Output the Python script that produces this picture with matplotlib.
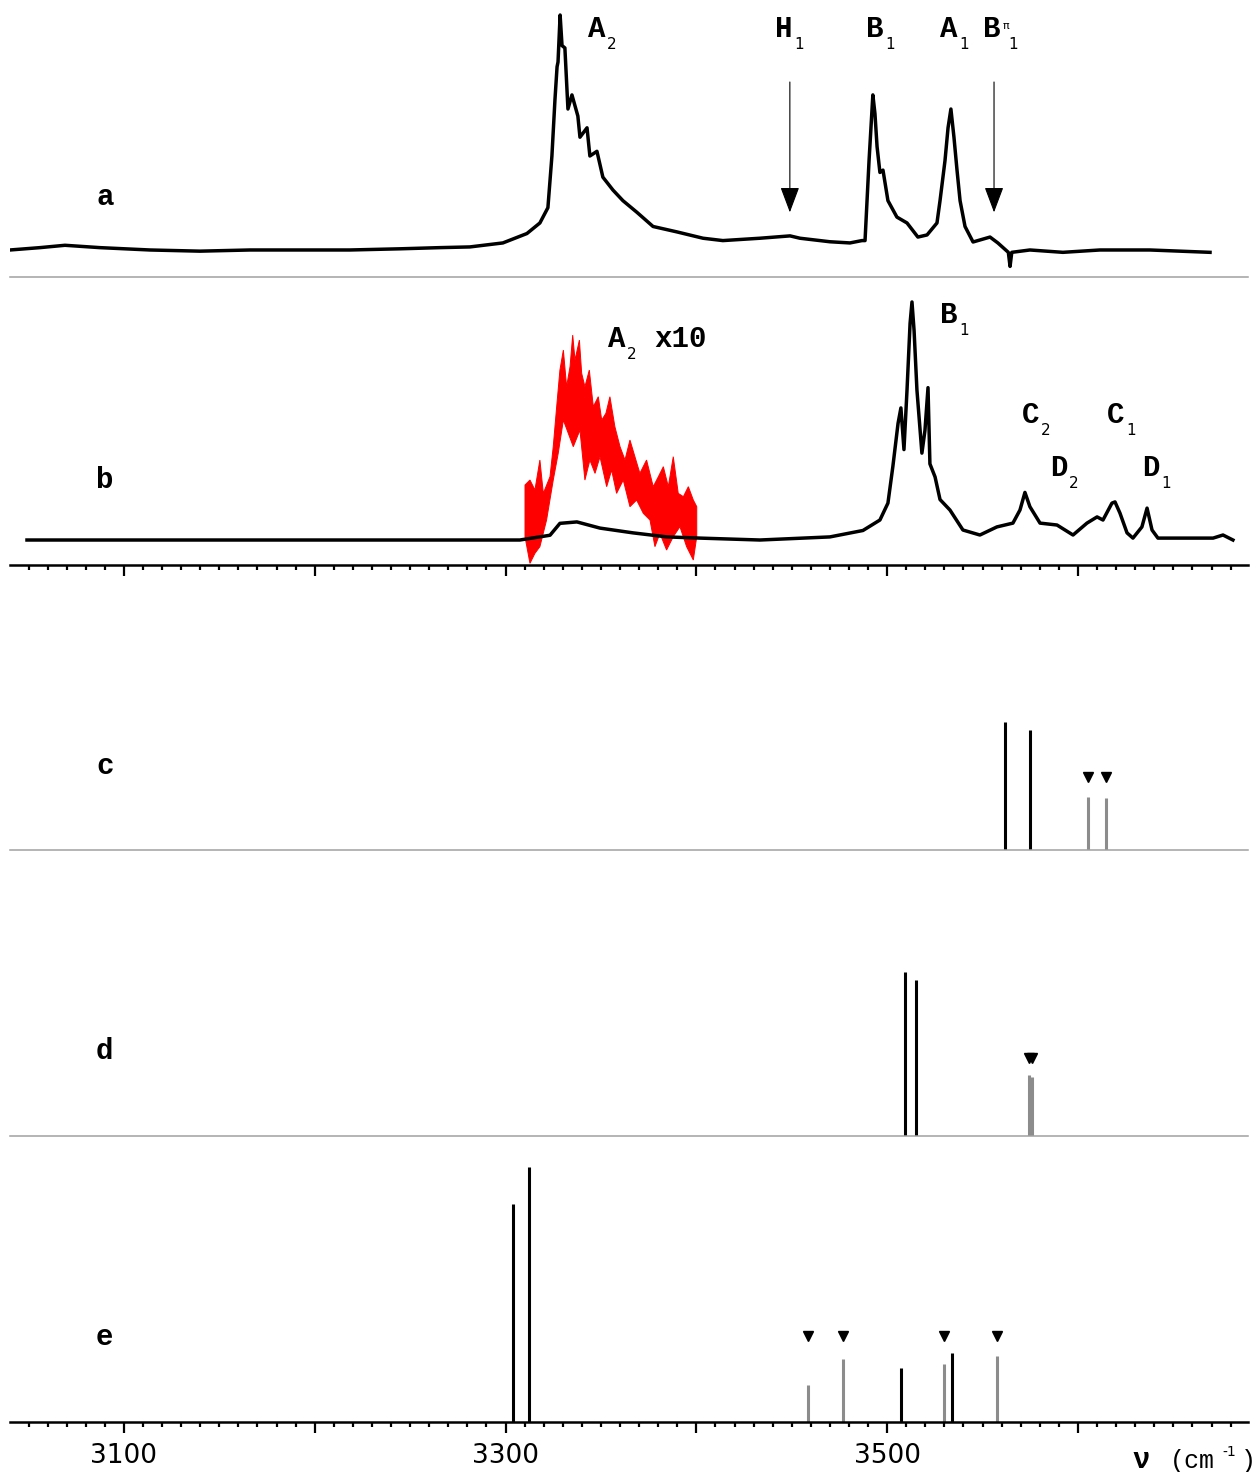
import numpy as np
import matplotlib
matplotlib.use("Agg")
import matplotlib.pyplot as plt
from matplotlib.ticker import MultipleLocator

# --- trace a: wavenumber (cm-1) and relative intensity ---
nu_a = [3040.3, 3056.0, 3069.1, 3087.4, 3113.6, 3139.8, 3166.0, 3192.2, 3218.4,
        3244.7, 3265.6, 3281.3, 3298.6, 3311.2, 3318.0, 3322.2, 3324.3, 3325.9,
        3327.0, 3327.5, 3328.6, 3329.6, 3331.1, 3332.7, 3334.8, 3337.9, 3339.0,
        3342.7, 3344.2, 3347.9, 3351.0, 3356.3, 3361.5, 3368.9, 3377.3, 3389.8,
        3403.5, 3413.9, 3433.3, 3449.1, 3454.3, 3470.0, 3480.5, 3486.8, 3488.4,
        3490.5, 3492.5, 3493.6, 3494.7, 3496.2, 3497.8, 3500.4, 3505.1, 3510.4,
        3516.1, 3520.9, 3526.1, 3527.7, 3530.3, 3531.9, 3533.4, 3535.0, 3536.6,
        3538.2, 3540.8, 3545.0, 3553.9, 3558.0, 3563.5, 3564.4, 3565.3, 3574.8,
        3592.1, 3611.5, 3637.7, 3669.2]
int_a = [0.00, 0.01, 0.02, 0.01, 0.00, -0.005, 0.00, 0.00, 0.00,
         0.005, 0.01, 0.013, 0.03, 0.07, 0.115, 0.18, 0.40, 0.64,
         0.78, 0.80, 1.00, 0.87, 0.86, 0.60, 0.66, 0.57, 0.48,
         0.52, 0.40, 0.42, 0.31, 0.255, 0.21, 0.16, 0.10, 0.077,
         0.05, 0.04, 0.05, 0.06, 0.05, 0.035, 0.03, 0.04, 0.04,
         0.38, 0.66, 0.58, 0.44, 0.33, 0.34, 0.21, 0.14, 0.115,
         0.055, 0.064, 0.115, 0.21, 0.38, 0.52, 0.60, 0.48, 0.34,
         0.21, 0.10, 0.034, 0.055, 0.03, -0.01, -0.07, -0.01, 0.00,
         -0.01, 0.00, 0.00, -0.01]

# --- trace b (black) ---
nu_b = [3049.2, 3087.4, 3139.8, 3192.2, 3244.7, 3297.1, 3307.5, 3323.3, 3328.5,
        3337.4, 3349.5, 3366.8, 3384.6, 3401.9, 3433.3, 3470.0, 3487.3, 3496.2,
        3500.4, 3503.0, 3505.7, 3507.2, 3508.8, 3510.4, 3512.0, 3513.0, 3514.1,
        3515.6, 3518.2, 3519.8, 3521.4, 3522.4, 3525.1, 3527.7, 3532.9, 3539.7,
        3548.6, 3557.5, 3565.9, 3569.6, 3572.2, 3574.8, 3580.1, 3589.0, 3597.4,
        3604.7, 3610.0, 3613.1, 3617.8, 3619.4, 3622.0, 3625.7, 3628.8, 3633.5,
        3636.2, 3638.8, 3641.9, 3653.5, 3670.8, 3676.0, 3681.2]
int_b = [0.00, 0.00, 0.00, 0.00, 0.00, 0.00, 0.00, 0.02, 0.07,
         0.076, 0.05, 0.03, 0.013, 0.008, 0.00, 0.013, 0.04, 0.084,
         0.155, 0.31, 0.49, 0.555, 0.38, 0.63, 0.91, 1.00, 0.88,
         0.63, 0.365, 0.46, 0.64, 0.32, 0.265, 0.17, 0.126, 0.042,
         0.021, 0.055, 0.071, 0.126, 0.20, 0.14, 0.071, 0.063, 0.021,
         0.071, 0.097, 0.084, 0.155, 0.16, 0.113, 0.03, 0.008, 0.055,
         0.134, 0.042, 0.008, 0.008, 0.008, 0.021, 0.00]

# --- trace b, A2 region x10 (red): upper and lower edge of the noisy trace ---
nu_b10_up = [3310.2, 3312.8, 3315.4, 3318.0, 3319.8, 3323.3, 3325.0, 3326.8, 3328.5,
             3330.3, 3332.0, 3333.8, 3335.2, 3336.4, 3338.7, 3339.9, 3341.6, 3343.9,
             3346.0, 3348.6, 3350.4, 3352.6, 3354.7, 3357.3, 3360.0, 3362.6, 3365.2,
             3367.8, 3370.4, 3373.9, 3377.4, 3380.1, 3382.7, 3385.3, 3387.9, 3390.5,
             3393.2, 3395.8, 3398.4, 3400.2]
b10_up = [0.231, 0.252, 0.210, 0.336, 0.196, 0.266, 0.392, 0.560, 0.714,
          0.798, 0.644, 0.728, 0.861, 0.756, 0.840, 0.700, 0.644, 0.714,
          0.560, 0.602, 0.504, 0.532, 0.602, 0.476, 0.392, 0.336, 0.420,
          0.350, 0.280, 0.336, 0.224, 0.266, 0.308, 0.224, 0.350, 0.196,
          0.182, 0.224, 0.168, 0.140]
nu_b10_lo = [3310.2, 3312.8, 3315.4, 3318.0, 3321.5, 3325.0, 3327.6, 3330.3, 3332.9,
             3335.5, 3339.0, 3341.6, 3344.2, 3346.9, 3349.5, 3353.0, 3355.6, 3358.2,
             3361.7, 3365.2, 3368.7, 3372.2, 3375.7, 3378.3, 3380.9, 3384.4, 3387.9,
             3391.4, 3394.9, 3398.4, 3400.2]
b10_lo = [0.014, -0.098, -0.056, -0.028, 0.084, 0.252, 0.364, 0.504, 0.448,
          0.392, 0.462, 0.252, 0.336, 0.280, 0.350, 0.224, 0.294, 0.196,
          0.252, 0.140, 0.168, 0.112, 0.084, -0.028, 0.028, -0.042, 0.014,
          0.056, -0.028, -0.084, 0.014]

# --- calculated stick spectra c, d, e (black = main, grey = marked) ---
c_black_nu = [3562.0, 3575.0]
c_black_h = [0.504, 0.472]
c_grey_nu = [3605.0, 3614.6]
c_grey_h = [0.209, 0.205]

d_black_nu = [3509.4, 3515.2]
d_black_h = [0.642, 0.610]
d_grey_nu = [3574.2, 3576.0]
d_grey_h = [0.240, 0.232]

e_black_nu = [3304.0, 3312.4, 3507.2, 3534.0]
e_black_h = [0.854, 1.000, 0.213, 0.272]
e_grey_nu = [3458.6, 3477.0, 3529.6, 3557.5]
e_grey_h = [0.146, 0.248, 0.228, 0.260]

# arrowhead marker height above grey sticks, per panel
marker_h = {"c": 0.285, "d": 0.305, "e": 0.335}

# arrows pointing at H1 and B^pi_1 in trace a
arrow_a_nu = [3449.0, 3556.0]

W, H = 1254, 1472
MONO = "Liberation Mono"
LSIZE = 21


def px(x, y):
    """pixel (from top-left) -> figure fraction"""
    return x / W, 1 - y / H


def add_axes(top, bottom):
    return fig.add_axes([10 / W, 1 - bottom / H, 1238 / W, (bottom - top) / H])


def label(x, y, main, sub=None, sup=None):
    fx, fy = px(x, y)
    fig.text(fx, fy, main, family=MONO, weight="bold", fontsize=LSIZE,
             ha="left", va="baseline")
    if sup:
        sx, sy = px(x + 20, y - 8)
        fig.text(sx, sy, sup, family="DejaVu Sans", fontsize=8,
                 ha="left", va="baseline")
    if sub:
        off = 25 if sup else 19
        sx, sy = px(x + off, y + 12)
        fig.text(sx, sy, sub, family="DejaVu Sans", fontsize=11,
                 ha="left", va="baseline")


fig = plt.figure(figsize=(W / 100, H / 100), dpi=100)

# --- 1) Axes layout ---
ax_a = add_axes(0, 277)
ax_b = add_axes(277, 565)
ax_c = add_axes(565, 850)
ax_d = add_axes(850, 1136)
ax_e = add_axes(1136, 1422)
axes = [ax_a, ax_b, ax_c, ax_d, ax_e]

for ax in axes:
    ax.set_xlim(3040.3, 3689.1)
    for s in ["top", "left", "right"]:
        ax.spines[s].set_visible(False)
    ax.set_yticks([])
    ax.patch.set_alpha(0)

for ax in [ax_a, ax_c, ax_d]:
    ax.spines["bottom"].set_color("#a0a0a0")
    ax.spines["bottom"].set_linewidth(1.1)
    ax.set_xticks([])

for ax in [ax_b, ax_e]:
    ax.spines["bottom"].set_color("black")
    ax.spines["bottom"].set_linewidth(1.8)
    ax.xaxis.set_major_locator(MultipleLocator(100))
    ax.xaxis.set_minor_locator(MultipleLocator(10))
    ax.tick_params(axis="x", which="major", direction="out", length=8, width=1.6,
                   labelsize=19, pad=7)
    ax.tick_params(axis="x", which="minor", direction="out", length=3.5, width=1.6)
ax_b.tick_params(axis="x", which="major", labelbottom=False)
ax_e.set_xticks([3100, 3200, 3300, 3400, 3500, 3600])
ax_e.set_xticklabels(["3100", "", "3300", "", "3500", ""])

ax_a.set_ylim(-0.115, 1.064)
ax_b.set_ylim(-0.105, 1.105)
for ax in [ax_c, ax_d, ax_e]:
    ax.set_ylim(0, 1.12)

# --- 2) Experimental traces ---
ax_a.plot(nu_a, int_a, color="black", lw=2.5)
for nu in arrow_a_nu:
    ax_a.annotate("", xy=(nu, 0.16), xytext=(nu, 0.715),
                  arrowprops=dict(arrowstyle="-|>,head_length=0.8,head_width=0.3",
                                  color="black", lw=0.8, mutation_scale=20,
                                  shrinkA=0, shrinkB=0))

# red x10 trace drawn as the band between its upper and lower edge
ax_b.fill(nu_b10_up + nu_b10_lo[::-1], b10_up + b10_lo[::-1],
          color="red", lw=0.7)
ax_b.plot(nu_b, int_b, color="black", lw=2.5)

# --- 3) Stick spectra ---
sticks = [(ax_c, "c", c_black_nu, c_black_h, c_grey_nu, c_grey_h),
          (ax_d, "d", d_black_nu, d_black_h, d_grey_nu, d_grey_h),
          (ax_e, "e", e_black_nu, e_black_h, e_grey_nu, e_grey_h)]
for ax, key, bn, bh, gn, gh in sticks:
    ax.vlines(bn, 0, bh, color="black", lw=2.2)
    ax.vlines(gn, 0, gh, color="#8c8c8c", lw=2.2)
    ax.plot(gn, [marker_h[key]] * len(gn), linestyle="none", marker="v",
            color="black", markersize=7)

# --- 4) Labels ---
for letter, y in zip("abcde", [205, 488, 774, 1059, 1345]):
    fx, fy = px(96, y)
    fig.text(fx, fy, letter, family=MONO, weight="bold", fontsize=LSIZE,
             ha="left", va="baseline")

label(588, 37, "A", "2")
label(775, 37, "H", "1")
label(866, 37, "B", "1")
label(940, 37, "A", "1")
label(983, 37, "B", "1", sup="\u03c0")

label(608, 347, "A", "2")
fx, fy = px(654, 347)
fig.text(fx, fy, "x10", family=MONO, weight="bold", fontsize=LSIZE,
         ha="left", va="baseline")
label(940, 323, "B", "1")
label(1022, 423, "C", "2")
label(1050, 476, "D", "2")
label(1107, 423, "C", "1")
label(1142, 476, "D", "1")

fx, fy = px(1132, 1468)
fig.text(fx, fy, "\u03bd", family=MONO, weight="bold", fontsize=LSIZE,
         ha="left", va="baseline")
fx, fy = px(1170, 1468)
fig.text(fx, fy, "(cm", family=MONO, fontsize=18,
         ha="left", va="baseline")
fx, fy = px(1222, 1456)
fig.text(fx, fy, "-1", family="DejaVu Sans", fontsize=10,
         ha="left", va="baseline")
fx, fy = px(1241, 1468)
fig.text(fx, fy, ")", family=MONO, fontsize=18,
         ha="left", va="baseline")

fig.savefig("out.png", dpi=100)
